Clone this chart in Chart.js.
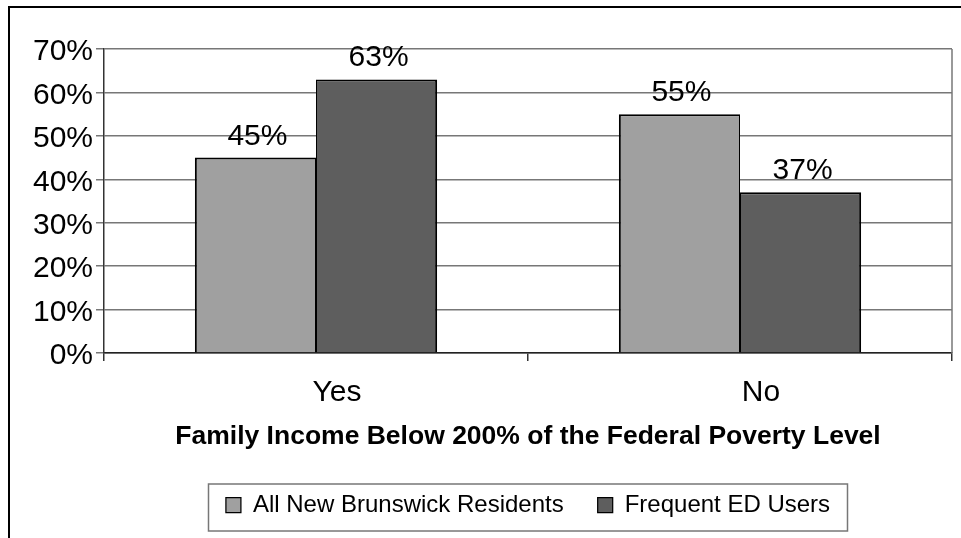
<!DOCTYPE html>
<html>
<head>
<meta charset="utf-8">
<script src="https://cdn.jsdelivr.net/npm/chart.js@4.4.0/dist/chart.umd.min.js"></script>
<style>
  html, body { margin: 0; padding: 0; background: #fff; }
  body { width: 961px; height: 538px; overflow: hidden; position: relative; }
  #frame { position: absolute; left: 8px; top: 6px; border-left: 2px solid #000; border-top: 2px solid #000; }
  #frame canvas { display: block; }
</style>
</head>
<body>
<div id="frame"><canvas id="chart" width="951" height="530"></canvas></div>
<script>
const categories = ['Yes', 'No'];
const seriesNames = ['All New Brunswick Residents', 'Frequent ED Users'];
const allResidents = [45, 55];
const frequentUsers = [63, 37];
const yTicks = [0, 10, 20, 30, 40, 50, 60, 70];
const axisTitle = 'Family Income Below 200% of the Federal Poverty Level';

const FONT = "'Liberation Sans', Arial, sans-serif";

// value labels above each bar
const valueLabels = {
  id: 'valueLabels',
  afterDatasetsDraw(chart) {
    const ctx = chart.ctx;
    ctx.save();
    ctx.font = '30px ' + FONT;
    ctx.fillStyle = '#000';
    ctx.textAlign = 'center';
    ctx.textBaseline = 'alphabetic';
    chart.data.datasets.forEach((ds, i) => {
      chart.getDatasetMeta(i).data.forEach((bar, j) => {
        ctx.fillText(ds.data[j] + '%', bar.x + 2, bar.y - 13);
      });
    });
    ctx.restore();
  }
};

// grey line closing the plot area on the right
const plotFrame = {
  id: 'plotFrame',
  beforeDatasetsDraw(chart) {
    const { ctx, chartArea: a } = chart;
    ctx.save();
    ctx.strokeStyle = '#777';
    ctx.lineWidth = 1.5;
    ctx.beginPath();
    ctx.moveTo(a.right, a.top);
    ctx.lineTo(a.right, a.bottom);
    ctx.stroke();
    ctx.restore();
  }
};

// box around the legend, centred under the plot area
const legendFrame = {
  id: 'legendFrame',
  afterDraw(chart) {
    const boxes = chart.legend && chart.legend.legendHitBoxes;
    if (!boxes || !boxes.length) return;
    const ctx = chart.ctx;
    const a = chart.chartArea;
    const cx = (a.left + a.right) / 2;
    const mid = boxes[0].top + boxes[0].height / 2;
    ctx.save();
    ctx.strokeStyle = '#777';
    ctx.lineWidth = 1.5;
    ctx.strokeRect(cx - 319.5, mid - 21, 639, 47);
    ctx.restore();
  }
};

new Chart(document.getElementById('chart'), {
  type: 'bar',
  data: {
    labels: categories,
    datasets: [
      {
        label: seriesNames[0],
        data: allResidents,
        backgroundColor: '#a0a0a0',
        borderColor: '#000',
        borderWidth: { left: 2, right: 1, top: 2, bottom: 0 },
        categoryPercentage: 2 / 3.5,
        barPercentage: 1
      },
      {
        label: seriesNames[1],
        data: frequentUsers,
        backgroundColor: '#5e5e5e',
        borderColor: '#000',
        borderWidth: { left: 1, right: 2, top: 2, bottom: 0 },
        categoryPercentage: 2 / 3.5,
        barPercentage: 1
      }
    ]
  },
  options: {
    responsive: false,
    animation: false,
    layout: { padding: { left: 0, right: 9, top: 41, bottom: 11 } },
    plugins: {
      legend: {
        position: 'bottom',
        fullSize: false,
        labels: {
          boxWidth: 15,
          boxHeight: 15,
          padding: 34,
          color: '#000',
          font: { family: FONT, size: 24 }
        }
      },
      tooltip: { enabled: false }
    },
    scales: {
      x: {
        offset: true,
        grid: { offset: true, drawOnChartArea: false, tickLength: 8, color: '#333', lineWidth: 1.5 },
        border: { color: '#222', width: 1.5 },
        ticks: { color: '#000', font: { family: FONT, size: 30 }, padding: 14, labelOffset: 21, maxRotation: 0 },
        title: {
          display: true,
          text: axisTitle,
          color: '#000',
          font: { family: FONT, size: 26.5, weight: 'bold' },
          padding: { top: 0, bottom: 6 }
        },
        afterFit(scale) { scale.height = 106; }
      },
      y: {
        min: 0,
        max: 70,
        afterBuildTicks(scale) { scale.ticks = yTicks.map((v) => ({ value: v })); },
        grid: { color: '#777', lineWidth: 1.5, tickLength: 8 },
        border: { color: '#333', width: 1.5 },
        ticks: { color: '#000', font: { family: FONT, size: 30 }, padding: 3, labelOffset: 3, callback: (v) => v + '%' },
        afterFit(scale) { scale.width = 94; }
      }
    }
  },
  plugins: [plotFrame, valueLabels, legendFrame]
});
</script>
</body>
</html>
